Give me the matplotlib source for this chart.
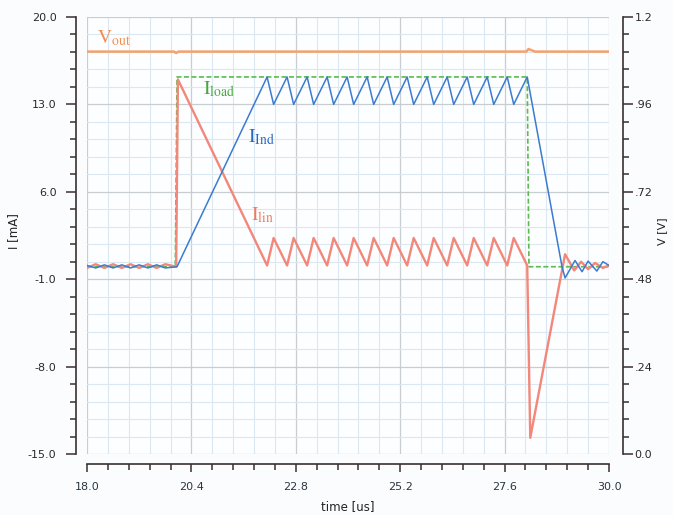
import matplotlib
matplotlib.use('Agg')
import matplotlib.pyplot as plt
from matplotlib.ticker import AutoMinorLocator

# ------------------------------------------------------------------
# Données (temps en us, courants en mA, tension en V)
# ------------------------------------------------------------------
t_load = [18.0, 20.03, 20.07, 28.12, 28.16, 30.0]
i_load = [0.0, 0.0, 15.2, 15.2, 0.0, 0.0]

t_ind = [18.0, 18.2, 18.4, 18.6, 18.8, 19.0, 19.2, 19.4, 19.6, 19.8, 20.07,
         22.14, 22.29, 22.60, 22.75, 23.06, 23.21, 23.52, 23.67, 23.98, 24.13,
         24.44, 24.59, 24.90, 25.05, 25.36, 25.51, 25.82, 25.97, 26.28, 26.43,
         26.74, 26.89, 27.20, 27.35, 27.66, 27.81, 28.12,
         28.92, 28.99, 29.22, 29.38, 29.52, 29.72, 29.86, 30.0]
i_ind = [0.1, -0.1, 0.15, -0.1, 0.15, -0.1, 0.15, -0.1, 0.15, -0.1, 0.0,
         15.2, 13.0, 15.2, 13.0, 15.2, 13.0, 15.2, 13.0, 15.2, 13.0,
         15.2, 13.0, 15.2, 13.0, 15.2, 13.0, 15.2, 13.0, 15.2, 13.0,
         15.2, 13.0, 15.2, 13.0, 15.2, 13.0, 15.2,
         0.0, -0.9, 0.5, -0.4, 0.45, -0.35, 0.4, 0.1]

t_lin = [18.0, 18.2, 18.4, 18.6, 18.8, 19.0, 19.2, 19.4, 19.6, 19.8, 20.05,
         20.09, 22.14, 22.29, 22.60, 22.75, 23.06, 23.21, 23.52, 23.67, 23.98,
         24.13, 24.44, 24.59, 24.90, 25.05, 25.36, 25.51, 25.82, 25.97, 26.28,
         26.43, 26.74, 26.89, 27.20, 27.35, 27.66, 27.81, 28.12,
         28.19, 28.99, 29.2, 29.36, 29.52, 29.68, 29.86, 30.0]
i_lin = [-0.1, 0.2, -0.1, 0.2, -0.1, 0.2, -0.1, 0.2, -0.1, 0.2, 0.0,
         15.0, 0.1, 2.3, 0.1, 2.3, 0.1, 2.3, 0.1, 2.3, 0.1,
         2.3, 0.1, 2.3, 0.1, 2.3, 0.1, 2.3, 0.1, 2.3, 0.1,
         2.3, 0.1, 2.3, 0.1, 2.3, 0.1, 2.3, 0.1,
         -13.7, 1.0, -0.3, 0.4, -0.2, 0.3, -0.1, 0.1]

t_vout = [18.0, 20.0, 20.05, 20.1, 28.1, 28.15, 28.3, 30.0]
v_out = [1.105, 1.105, 1.101, 1.105, 1.105, 1.112, 1.105, 1.105]

x_ticks = [18.0, 20.4, 22.8, 25.2, 27.6, 30.0]
x_labels = ["18.0", "20.4", "22.8", "25.2", "27.6", "30.0"]
i_ticks = [-15.0, -8.0, -1.0, 6.0, 13.0, 20.0]
i_labels = ["-15.0", "-8.0", "-1.0", "6.0", "13.0", "20.0"]
v_ticks = [0.0, 0.24, 0.48, 0.72, 0.96, 1.2]
v_labels = ["0.0", ".24", ".48", ".72", ".96", "1.2"]

# couleurs
c_vout = '#f4a26e'
c_lin = '#f2877a'
c_ind = '#3b7bd0'
c_load = '#5cba4e'
c_axe = '#3a3030'

plt.rcParams['mathtext.fontset'] = 'stix'

fig = plt.figure(figsize=(6.73, 5.15), dpi=100, facecolor='#fbfcfd')
ax = fig.add_axes([87 / 673, 1 - 454 / 515, 522 / 673, 437 / 515])
ax.set_facecolor('#fdfeff')

# grille
ax.set_axisbelow(True)
ax.xaxis.set_minor_locator(AutoMinorLocator(5))
ax.yaxis.set_minor_locator(AutoMinorLocator(5))
ax.grid(which='minor', color='#dce8f1', linewidth=0.8)
ax.grid(which='major', color='#c8cdd2', linewidth=0.9)

# courbes
ax.plot(t_load, i_load, color=c_load, linewidth=1.2, linestyle=(0, (3, 1.5)))
ax.plot(t_lin, i_lin, color=c_lin, linewidth=1.7)
ax.plot(t_ind, i_ind, color=c_ind, linewidth=1.1)

ax.set_xlim(18.0, 30.0)
ax.set_ylim(-15.0, 20.0)
ax.set_xticks(x_ticks, x_labels)
ax.set_yticks(i_ticks, i_labels)

for cote in ['top', 'right']:
    ax.spines[cote].set_visible(False)
ax.spines['left'].set_position(('outward', 8))
ax.spines['bottom'].set_position(('outward', 7))
for cote in ['left', 'bottom']:
    ax.spines[cote].set_color(c_axe)
    ax.spines[cote].set_linewidth(1.2)

ax.tick_params(axis='y', which='major', direction='out', length=7, width=1.1,
               pad=7, labelsize=8, color=c_axe, labelcolor='#2a2a2a')
ax.tick_params(axis='y', which='minor', direction='out', length=4, width=1.1, color=c_axe)
ax.tick_params(axis='x', which='major', direction='out', length=6, width=1.1,
               pad=7, labelsize=8, color=c_axe, labelcolor='#2a3640')
ax.tick_params(axis='x', which='minor', direction='out', length=4.5, width=1.1, color=c_axe)

ax.set_xlabel("time [us]", fontsize=8.5, color='#222222')
ax.set_ylabel("I [mA]", fontsize=8.5, color='#222222')
ax.xaxis.set_label_coords(0.5, -0.105)
ax.yaxis.set_label_coords(-0.128, 0.51)

# axe de droite : tension
ax2 = ax.twinx()
ax2.plot(t_vout, v_out, color=c_vout, linewidth=1.8)
ax2.set_ylim(0.0, 1.2)
ax2.set_yticks(v_ticks, v_labels)
ax2.yaxis.set_minor_locator(AutoMinorLocator(5))
for cote in ['top', 'left', 'bottom']:
    ax2.spines[cote].set_visible(False)
ax2.spines['right'].set_position(('outward', 10))
ax2.spines['right'].set_color(c_axe)
ax2.spines['right'].set_linewidth(1.2)
ax2.tick_params(axis='y', which='major', direction='out', length=7, width=1.1,
                pad=1.5, labelsize=8, color=c_axe, labelcolor='#2a2a2a')
ax2.tick_params(axis='y', which='minor', direction='out', length=4, width=1.1, color=c_axe)
ax2.set_ylabel("V [V]", fontsize=8, color='#222222')
ax2.yaxis.set_label_coords(1.092, 0.51)

# étiquettes des courbes
ax.text(18.22, 18.3, r'$\mathrm{V}_{\mathrm{out}}$', color='#f28e52', fontsize=14,
        va='center', ha='left')
ax.text(20.66, 14.2, r'$\mathrm{I}_{\mathrm{load}}$', color='#45a83c', fontsize=14,
        va='center', ha='left')
ax.text(21.70, 10.4, r'$\mathrm{I}_{\mathrm{Ind}}$', color='#2a68bf', fontsize=14,
        va='center', ha='left')
ax.text(21.78, 4.1, r'$\mathrm{I}_{\mathrm{lin}}$', color='#f07a5e', fontsize=14,
        va='center', ha='left')

fig.savefig('out.png', dpi=100, facecolor=fig.get_facecolor())
